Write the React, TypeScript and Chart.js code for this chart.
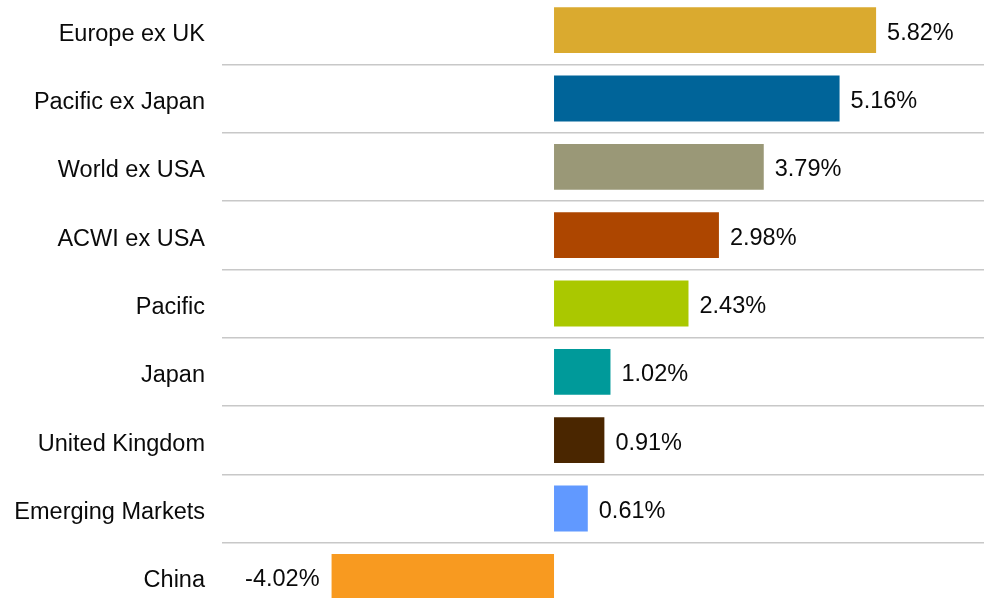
import React, { useEffect, useRef } from "react";
import { Chart, registerables } from "chart.js";

Chart.register(...registerables);

const categories = [
  "Europe ex UK",
  "Pacific ex Japan",
  "World ex USA",
  "ACWI ex USA",
  "Pacific",
  "Japan",
  "United Kingdom",
  "Emerging Markets",
  "China",
];
const returnsPct = [5.82, 5.16, 3.79, 2.98, 2.43, 1.02, 0.91, 0.61, -4.02];
const barColors = [
  "#DAAA2F",
  "#006499",
  "#9A9877",
  "#AD4600",
  "#AAC800",
  "#009A9A",
  "#4A2600",
  "#6199FF",
  "#F89A20",
];

const FONT = '"Liberation Sans", Arial, sans-serif';

const valueLabels = {
  id: "valueLabels",
  afterDatasetsDraw(chart: any) {
    const ctx = chart.ctx;
    const meta = chart.getDatasetMeta(0);
    const data = chart.data.datasets[0].data as number[];
    ctx.save();
    ctx.font = `23.5px ${FONT}`;
    ctx.fillStyle = "#0a0a0a";
    ctx.textBaseline = "middle";
    meta.data.forEach((bar: any, i: number) => {
      const v = data[i];
      const txt = v.toFixed(2) + "%";
      if (v >= 0) {
        ctx.textAlign = "left";
        ctx.fillText(txt, bar.x + 11, bar.y + 3);
      } else {
        ctx.textAlign = "right";
        ctx.fillText(txt, bar.x - 12, bar.y + 3);
      }
    });
    ctx.restore();
  },
};

export default function App() {
  const ref = useRef<HTMLCanvasElement>(null);
  useEffect(() => {
    if (!ref.current) return;
    const chart = new Chart(ref.current, {
      type: "bar",
      data: {
        labels: categories,
        datasets: [
          {
            data: returnsPct,
            backgroundColor: barColors,
            borderWidth: 0,
            categoryPercentage: 1,
            barPercentage: 0.67,
          },
        ],
      },
      options: {
        indexAxis: "y",
        animation: false,
        responsive: true,
        maintainAspectRatio: false,
        layout: { padding: 0 },
        plugins: {
          legend: { display: false },
          tooltip: { enabled: false },
        },
        scales: {
          x: {
            display: false,
            min: -6,
            max: 7.77,
          },
          y: {
            afterFit: (scale: any) => {
              scale.width = 222;
              scale.paddingTop = 0;
              scale.paddingBottom = 0;
            },
            border: { display: false },
            grid: {
              offset: true,
              drawTicks: false,
              color: "#c8c8c8",
              lineWidth: 1.5,
            },
            ticks: {
              padding: 17,
              labelOffset: 4,
              color: "#0a0a0a",
              font: { family: FONT, size: 23.5 },
            },
          },
        },
      },
      plugins: [valueLabels],
    });
    return () => chart.destroy();
  }, []);
  return (
    <div
      style={{
        position: "fixed",
        left: 0,
        top: -4,
        width: 984,
        height: 615,
        background: "#ffffff",
      }}
    >
      <canvas ref={ref} />
    </div>
  );
}
